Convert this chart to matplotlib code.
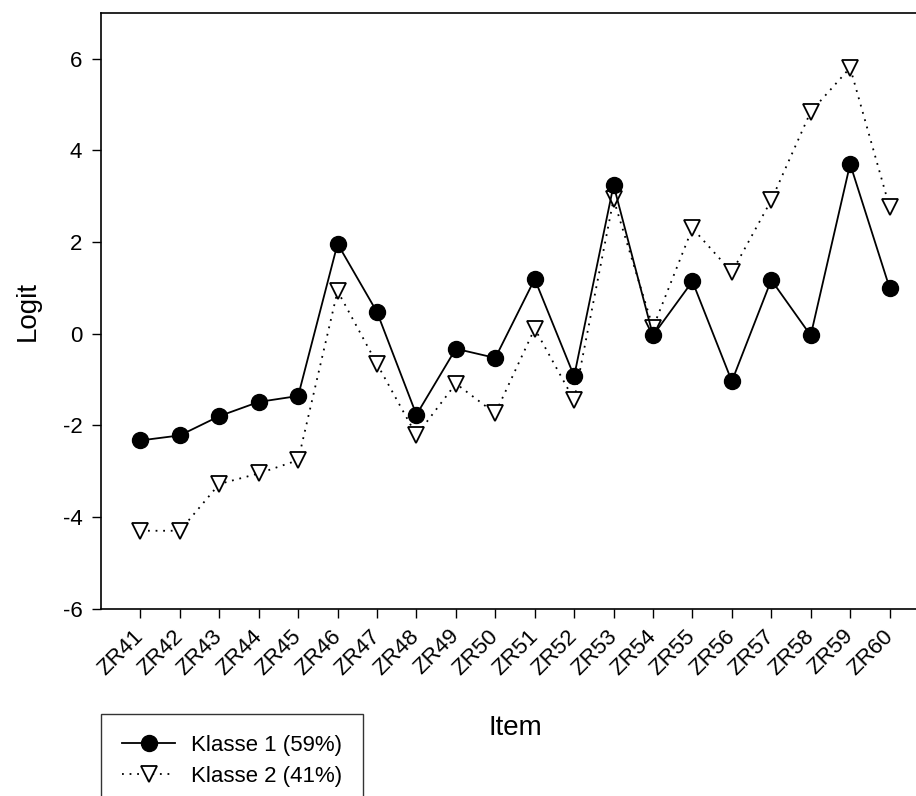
import numpy as np
import matplotlib.pyplot as plt
from matplotlib.ticker import MultipleLocator

plt.rcParams['font.family'] = ['Liberation Sans', 'DejaVu Sans']
plt.rcParams['axes.unicode_minus'] = False

#%% item difficulties (logits) per latent class
items = ['ZR41', 'ZR42', 'ZR43', 'ZR44', 'ZR45', 'ZR46', 'ZR47', 'ZR48', 'ZR49', 'ZR50',
         'ZR51', 'ZR52', 'ZR53', 'ZR54', 'ZR55', 'ZR56', 'ZR57', 'ZR58', 'ZR59', 'ZR60']
klasse1 = [-2.33, -2.22, -1.80, -1.49, -1.36, 1.96, 0.47, -1.77, -0.33, -0.53,
           1.19, -0.93, 3.24, -0.04, 1.14, -1.04, 1.17, -0.04, 3.70, 1.00]
klasse2 = [-4.30, -4.30, -3.28, -3.05, -2.76, 0.93, -0.66, -2.22, -1.09, -1.74,
           0.11, -1.45, 2.93, 0.13, 2.30, 1.34, 2.91, 4.84, 5.80, 2.76]
labels = ['Klasse 1 (59%)', 'Klasse 2 (41%)']

#%% plot
W, H = 916, 796
fig = plt.figure(figsize=(W/100, H/100), dpi=100)
ax = fig.add_axes([101/W, 1 - 608.7/H, 828/W, (608.7 - 12.7)/H])

x = np.arange(1, len(items) + 1)
ax.plot(x, klasse1, color='black', lw=1.3, marker='o', markersize=11.5,
        markerfacecolor='black', markeredgecolor='black', label=labels[0], zorder=3)
ax.plot(x, klasse2, color='black', lw=1.3, linestyle=(0, (1, 3.2)), marker='v',
        markersize=11, markerfacecolor='white', markeredgecolor='black',
        markeredgewidth=1.3, label=labels[1], zorder=2)

ax.set_xlim(0, 21)
ax.set_ylim(-6, 7)
ax.yaxis.set_major_locator(MultipleLocator(2))
ax.set_xticks(x)
ax.set_xticklabels(items, rotation=45, ha='right', va='center',
                   rotation_mode='anchor', fontsize=16)
ax.tick_params(axis='y', labelsize=16)
ax.tick_params(direction='out', length=6.5, width=1.0, pad=7)
ax.tick_params(axis='x', pad=11)
ax.spines['right'].set_visible(False)
for s in ['left', 'top', 'bottom']:
    ax.spines[s].set_linewidth(1.2)

ax.set_ylabel('Logit', fontsize=20, labelpad=16)
ax.set_xlabel('Item', fontsize=20, labelpad=26)

leg = ax.legend(loc='upper left', bbox_to_anchor=(101/W, 1 - 714/H),
                bbox_transform=fig.transFigure, fontsize=16, frameon=True,
                fancybox=False, edgecolor='black', borderpad=0.95,
                handlelength=2.4, handletextpad=0.7, labelspacing=0.45,
                borderaxespad=0)
leg.get_frame().set_linewidth(1.0)

fig.savefig('out.png', dpi=100)
